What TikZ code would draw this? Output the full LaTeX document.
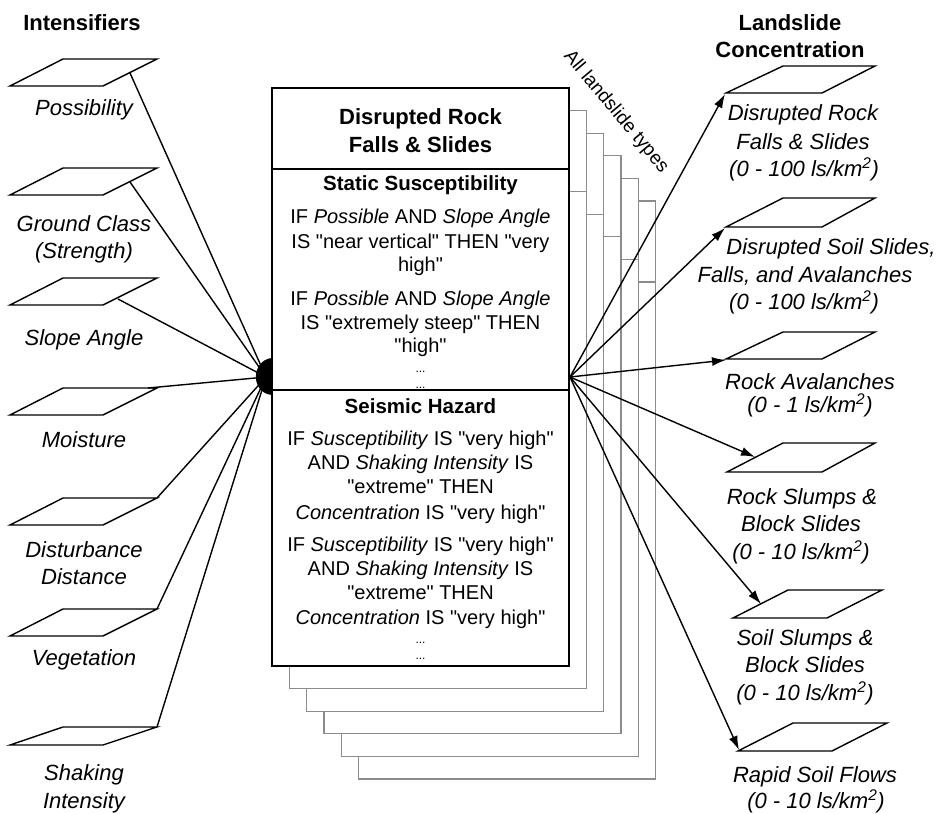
\documentclass[tikz,border=0pt]{standalone}
\usepackage{fontspec}
\setmainfont{Liberation Sans}[Ligatures=TeXOff]
\usetikzlibrary{arrows.meta}
\begin{document}
\begin{tikzpicture}[x=1pt,y=-1pt,
  every node/.style={inner sep=0pt, outer sep=0pt},
  hdr/.style={font=\fontsize{22}{26}\selectfont\bfseries, anchor=base},
  lbl/.style={font=\fontsize{22}{26}\selectfont\itshape, anchor=base},
  body/.style={font=\fontsize{20}{24}\selectfont, anchor=base},
  title/.style={font=\fontsize{22}{26}\selectfont\bfseries, anchor=base},
  sub/.style={font=\fontsize{20.5}{24}\selectfont\bfseries, anchor=base},
  dotline/.style={font=\fontsize{12}{14}\selectfont, anchor=base},
  pageline/.style={draw=black!45, line width=1.3pt, fill=white},
  para/.style={draw, line width=1.4pt, line join=miter, fill=white},
  fan/.style={line width=1.4pt},
  arr/.style={fan, -{Latex[length=14pt,width=9pt]}}
]
\useasboundingbox (0,0) rectangle (940,814);

% stacked back pages
\foreach \k in {5,4,3,2,1} {
  \path[pageline] ({272+17.3*\k},{88+22.6*\k}) rectangle ({569+17.3*\k},{666+22.6*\k});
  \draw[pageline] ({272+17.3*\k},{169+22.6*\k}) -- ({569+17.3*\k},{169+22.6*\k});
}
% main box
\filldraw[fill=white, draw=black, line width=2pt] (272,88) rectangle (569,666);
\draw[line width=2pt] (272,169) -- (569,169);
\draw[line width=2pt] (272,390) -- (569,390);

% rotated label
\node[font=\fontsize{19}{22}\selectfont, rotate=-50] (alltypes) at (616,112) {All landslide types};

% headers
\node[hdr] (hL) at (82,30) {Intensifiers};
\node[hdr] (hR1) at (790,30) {Landslide};
\node[hdr] (hR2) at (790,57) {Concentration};

% fan origins
\coordinate (lo) at (266,377);
\coordinate (ro) at (570,377);

% left parallelograms and connection points
\draw[para] (10,86) -- (103,86) -- (157,59) -- (63,59) -- cycle;
\draw[para] (10,195) -- (103,195) -- (157,168) -- (63,168) -- cycle;
\draw[para] (10,305) -- (103,305) -- (157,278) -- (63,278) -- cycle;
\draw[para] (10,415) -- (103,415) -- (157,388) -- (63,388) -- cycle;
\draw[para] (10,525) -- (103,525) -- (157,498) -- (63,498) -- cycle;
\draw[para] (10,636) -- (103,636) -- (157,609) -- (63,609) -- cycle;
\draw[para] (10,745) -- (103,745) -- (157,727) -- (63,727) -- cycle;
\coordinate (i1) at (130,73);
\coordinate (i2) at (130,182);
\coordinate (i3) at (118,299);
\coordinate (i4) at (148,388);
\coordinate (i5) at (157,498);
\coordinate (i6) at (157,609);
\coordinate (i7) at (157,727);
\foreach \n in {1,...,7} { \draw[fan] (i\n) -- (lo); }
\fill (272,358) .. controls (251,360) and (250,393) .. (272,395) -- cycle;

% right parallelograms and arrow targets
\draw[para] (726,93) -- (822,93) -- (875,66) -- (783,66) -- cycle;
\draw[para] (726,227) -- (822,227) -- (875,198) -- (783,198) -- cycle;
\draw[para] (726,359) -- (822,359) -- (875,332) -- (783,332) -- cycle;
\draw[para] (727,472) -- (822,472) -- (875,443) -- (783,443) -- cycle;
\draw[para] (733,618) -- (827,618) -- (882,590) -- (788,590) -- cycle;
\draw[para] (738,751) -- (832,751) -- (887,723) -- (793,723) -- cycle;
\coordinate (r1) at (725,94);
\coordinate (r2) at (725,228);
\coordinate (r3) at (726,360);
\coordinate (r4) at (755,457);
\coordinate (r5) at (761,604);
\coordinate (r6) at (739,750);
\foreach \n in {1,...,6} { \draw[arr] (ro) -- (r\n); }

% left labels
\node[lbl] (t1) at (84,115) {Possibility};
\node[lbl] (t2a) at (84,231) {Ground Class};
\node[lbl] (t2b) at (84,258) {(Strength)};
\node[lbl] (t3) at (84,345) {Slope Angle};
\node[lbl] (t4) at (84,447) {Moisture};
\node[lbl] (t5a) at (84,557) {Disturbance};
\node[lbl] (t5b) at (84,584) {Distance};
\node[lbl] (t6) at (84,665) {Vegetation};
\node[lbl] (t7a) at (84,780) {Shaking};
\node[lbl] (t7b) at (84,808) {Intensity};

% right labels
\node[lbl] (u1a) at (803,120) {Disrupted Rock};
\node[lbl] (u1b) at (803,149) {Falls \& Slides};
\node[lbl] (u1c) at (804,176) {(0 - 100 ls/km\textsuperscript{2})};
\node[lbl] (u2a) at (831,254) {Disrupted Soil Slides,};
\node[lbl] (u2b) at (805,282) {Falls, and Avalanches};
\node[lbl] (u2c) at (804,309) {(0 - 100 ls/km\textsuperscript{2})};
\node[lbl] (u3a) at (810,389) {Rock Avalanches};
\node[lbl] (u3b) at (810,412) {(0 - 1 ls/km\textsuperscript{2})};
\node[lbl] (u4a) at (802,504) {Rock Slumps \&};
\node[lbl] (u4b) at (801,531) {Block Slides};
\node[lbl] (u4c) at (801,559) {(0 - 10 ls/km\textsuperscript{2})};
\node[lbl] (u5a) at (805,645) {Soil Slumps \&};
\node[lbl] (u5b) at (805,672) {Block Slides};
\node[lbl] (u5c) at (805,700) {(0 - 10 ls/km\textsuperscript{2})};
\node[lbl] (u6a) at (815,782) {Rapid Soil Flows};
\node[lbl] (u6b) at (816,808) {(0 - 10 ls/km\textsuperscript{2})};

% main box text
\node[title] (m1) at (420.5,124) {Disrupted Rock};
\node[title] (m2) at (420.5,152) {Falls \& Slides};
\node[sub] (s1) at (420.5,190) {Static Susceptibility};
\node[body] (a1) at (420.5,223) {IF \textit{Possible} AND \textit{Slope Angle}};
\node[body] (a2) at (420.5,248) {IS "near vertical" THEN "very};
\node[body] (a3) at (420.5,271) {high"};
\node[body] (a4) at (420.5,305) {IF \textit{Possible} AND \textit{Slope Angle}};
\node[body] (a5) at (420.5,329) {IS "extremely steep" THEN};
\node[body] (a6) at (420.5,352) {"high"};
\node[dotline] (a7) at (420.5,372) {...};
\node[dotline] (a8) at (420.5,388) {...};
\node[sub] (s2) at (420.5,413) {Seismic Hazard};
\node[body] (b1) at (420.5,445) {IF \textit{Susceptibility} IS "very high"};
\node[body] (b2) at (420.5,469) {AND \textit{Shaking Intensity} IS};
\node[body] (b3) at (420.5,493) {"extreme" THEN};
\node[body] (b4) at (420.5,519) {\textit{Concentration} IS "very high"};
\node[body] (b5) at (420.5,551) {IF \textit{Susceptibility} IS "very high"};
\node[body] (b6) at (420.5,575) {AND \textit{Shaking Intensity} IS};
\node[body] (b7) at (420.5,599) {"extreme" THEN};
\node[body] (b8) at (420.5,624) {\textit{Concentration} IS "very high"};
\node[dotline] (b9) at (420.5,643) {...};
\node[dotline] (b10) at (420.5,659) {...};
\end{tikzpicture}
\end{document}
